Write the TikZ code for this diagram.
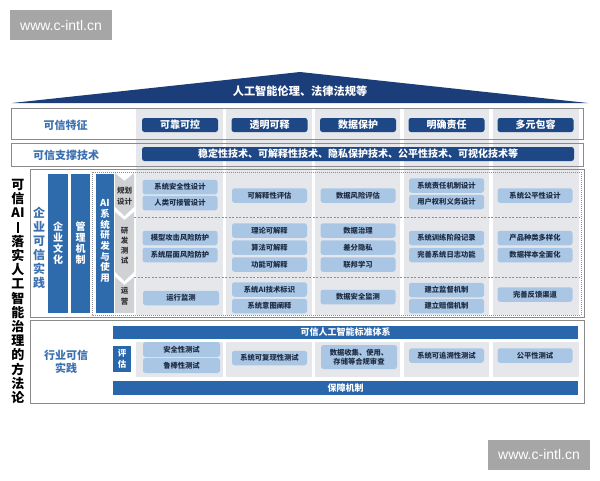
\documentclass[tikz,border=0pt]{standalone}
\usepackage{fontspec}
\setmainfont{Noto Sans CJK SC}
\newfontfamily\wmfont{Liberation Sans}
\definecolor{roof}{HTML}{1B3E7A}
\definecolor{navy}{HTML}{1D4785}
\definecolor{colblue}{HTML}{2D6BAD}
\definecolor{barblue}{HTML}{2A66AB}
\definecolor{lightb}{HTML}{A9C6E5}
\definecolor{boxtxt}{HTML}{1E2C42}
\definecolor{labelblue}{HTML}{3C71B1}
\definecolor{panelgray}{HTML}{E5E7EB}
\definecolor{chevgray}{HTML}{CFD1D5}
\definecolor{framegray}{HTML}{8A8A8A}
\definecolor{dotgray}{HTML}{8C8F96}
\definecolor{wmgray}{HTML}{A6A6A6}
\begin{document}
\begin{tikzpicture}[x=1pt,y=-1pt,
  frm/.style={draw=framegray, line width=0.7pt},
  btn/.style={fill=navy, rounded corners=2.5pt, text=white, font=\fontsize{10}{11}\selectfont\bfseries, minimum width=76pt, minimum height=14pt, inner sep=0pt},
  lb/.style={fill=lightb, rounded corners=2.5pt, text=boxtxt, font=\fontsize{7.3}{8.6}\selectfont\bfseries, minimum width=75pt, minimum height=14.5pt, inner sep=0pt, align=center},
  vtxt/.style={text=white, align=center, inner sep=0pt},
  lbl/.style={text=labelblue, font=\fontsize{11}{12.5}\selectfont\bfseries, align=center, inner sep=0pt},
  chevtxt/.style={text=black!80, font=\fontsize{7.5}{10}\selectfont\bfseries, align=center, inner sep=0pt},
  wm/.style={fill=wmgray, text=white, font=\wmfont\fontsize{14}{16}\selectfont, minimum width=102pt, minimum height=30pt, inner sep=0pt},
  sep/.style={draw=dotgray, line width=0.6pt, dash pattern=on 2pt off 1.5pt},
]
\useasboundingbox (0,0) rectangle (600,480);
\fill[white] (0,0) rectangle (600,480);

% watermarks
\node[wm] (wm1) at (61,25) {www.c-intl.cn};
\node[wm] (wm2) at (539,454.5) {www.c-intl.cn};

% gray column panels
\foreach \a/\b in {136/223,226/312,315/400,404/489,493/579}{
  \fill[panelgray] (\a,109) rectangle (\b,315);
  \fill[panelgray] (\a,342) rectangle (\b,377);
}

% roof
\fill[roof] (12,103) -- (300,72) -- (588,103) -- cycle;
\node[text=white, font=\fontsize{11.2}{12}\selectfont\bfseries, inner sep=0pt] (rooft) at (300,91) {人工智能伦理、法律法规等};

% frames
\draw[frm] (11,108) rectangle (583,139);
\draw[frm] (11,143) rectangle (583,166);
\draw[frm] (30,169) rectangle (584,317);
\draw[frm] (30,320) rectangle (584,403);
\draw[draw=dotgray, line width=0.6pt, dash pattern=on 1pt off 1pt] (92,172) rectangle (581,315);
\draw[sep] (134,217) -- (580,217);
\draw[sep] (134,277) -- (580,277);

% row 1
\node[lbl] (tz) at (65.5,125) {可信特征};
\node[btn] (b1) at (180,125) {可靠可控};
\node[btn] (b2) at (269.5,125) {透明可释};
\node[btn] (b3) at (358,125) {数据保护};
\node[btn] (b4) at (446.5,125) {明确责任};
\node[btn] (b5) at (535.5,125) {多元包容};

% row 2
\node[lbl] (zc) at (66,155) {可信支撑技术};
\node[btn, minimum width=432pt, font=\fontsize{10}{11}\selectfont\bfseries] (bar2) at (358,154) {稳定性技术、可解释性技术、隐私保护技术、公平性技术、可视化技术等};

% left title
\node[text=black, font=\fontsize{13}{14.2}\selectfont\bfseries, align=center, inner sep=0pt] (title) at (18,291.5)
 {可\\信\\AI\\\rule[-0.5pt]{1.8pt}{11pt}\\落\\实\\人\\工\\智\\能\\治\\理\\的\\方\\法\\论};

% enterprise section
\node[lbl, font=\fontsize{12}{14}\selectfont\bfseries] (qy) at (39,248) {企\\业\\可\\信\\实\\践};
\fill[colblue] (48,174) rectangle (68,313);
\fill[colblue] (71,174) rectangle (90,313);
\fill[colblue] (96,174) rectangle (114,313);
\node[vtxt, font=\fontsize{10}{10.8}\selectfont\bfseries] (c1) at (58,243) {企\\业\\文\\化};
\node[vtxt, font=\fontsize{10}{10.8}\selectfont\bfseries] (c2) at (80.5,243) {管\\理\\机\\制};
\node[vtxt, font=\fontsize{9.5}{10.7}\selectfont\bfseries] (c3) at (105,241) {AI\\系\\统\\研\\发\\与\\使\\用};

% chevrons
\fill[chevgray] (115,173) -- (124.5,181) -- (134,173) -- (134,207) -- (124.5,216) -- (115,207) -- cycle;
\fill[chevgray] (115,212) -- (124.5,220) -- (134,212) -- (134,272) -- (124.5,281) -- (115,272) -- cycle;
\fill[chevgray] (115,277) -- (124.5,285) -- (134,277) -- (134,313) -- (115,313) -- cycle;
\node[chevtxt, font=\fontsize{7.5}{11}\selectfont\bfseries] (h1) at (124.5,196) {规划\\设计};
\node[chevtxt] (h2) at (124.5,246) {研\\发\\测\\试};
\node[chevtxt, font=\fontsize{7.5}{11}\selectfont\bfseries] (h3) at (124.5,296) {运\\营};

% column 1
\node[lb] (a1) at (180,187) {系统安全性设计};
\node[lb] (a2) at (180,203) {人类可接管设计};
\node[lb] (a3) at (180,238) {模型攻击风险防护};
\node[lb] (a4) at (180,255) {系统层面风险防护};
\node[lb, minimum width=76pt] (a5) at (181,298) {运行监测};
% column 2
\node[lb] (b6) at (269.5,195.5) {可解释性评估};
\node[lb] (b7) at (269.5,230.5) {理论可解释};
\node[lb] (b8) at (269.5,247.5) {算法可解释};
\node[lb] (b9) at (269.5,264.5) {功能可解释};
\node[lb] (b10) at (269.5,289.5) {系统AI技术标识};
\node[lb] (b11) at (269.5,306) {系统意图阐释};
% column 3
\node[lb] (d1) at (358,195.5) {数据风险评估};
\node[lb] (d2) at (358,230.5) {数据治理};
\node[lb] (d3) at (358,247.5) {差分隐私};
\node[lb] (d4) at (358,264.5) {联邦学习};
\node[lb] (d5) at (358,297) {数据安全监测};
% column 4
\node[lb] (e1) at (446.5,185.5) {系统责任机制设计};
\node[lb] (e2) at (446.5,202) {用户权利义务设计};
\node[lb] (e3) at (446.5,238) {系统训练阶段记录};
\node[lb] (e4) at (446.5,255) {完善系统日志功能};
\node[lb] (e5) at (446.5,290) {建立监督机制};
\node[lb] (e6) at (446.5,306) {建立赔偿机制};
% column 5
\node[lb] (f1) at (535,195.5) {系统公平性设计};
\node[lb] (f2) at (535,238) {产品种类多样化};
\node[lb] (f3) at (535,255) {数据样本全面化};
\node[lb] (f4) at (535,294.5) {完善反馈渠道};

% industry section
\node[lbl, font=\fontsize{11}{13}\selectfont\bfseries] (hy) at (66,361.5) {行业可信\\实践};
\node[fill=barblue, text=white, font=\fontsize{9}{10}\selectfont\bfseries, minimum width=465pt, minimum height=13pt, inner sep=0pt] (std) at (345.5,332.5) {可信人工智能标准体系};
\node[fill=barblue, text=white, font=\fontsize{9}{10}\selectfont\bfseries, minimum width=465pt, minimum height=14pt, inner sep=0pt] (bz) at (345.5,388) {保障机制};
\node[fill=barblue, text=white, font=\fontsize{8.5}{10.5}\selectfont\bfseries, minimum width=18pt, minimum height=26pt, inner sep=0pt, align=center] (pg) at (122,359) {评\\估};
\node[lb, minimum width=77pt, minimum height=15pt] (g1) at (181.5,349.5) {安全性测试};
\node[lb, minimum width=77pt, minimum height=15pt] (g2) at (181.5,365.5) {鲁棒性测试};
\node[lb] (g3) at (269.5,358) {系统可复现性测试};
\node[lb, minimum width=76pt, minimum height=24pt] (g4) at (359,357) {数据收集、使用、\\存储等合规审查};
\node[lb] (g5) at (446.5,355.5) {系统可追溯性测试};
\node[lb] (g6) at (535,355.5) {公平性测试};
\end{tikzpicture}
\end{document}
